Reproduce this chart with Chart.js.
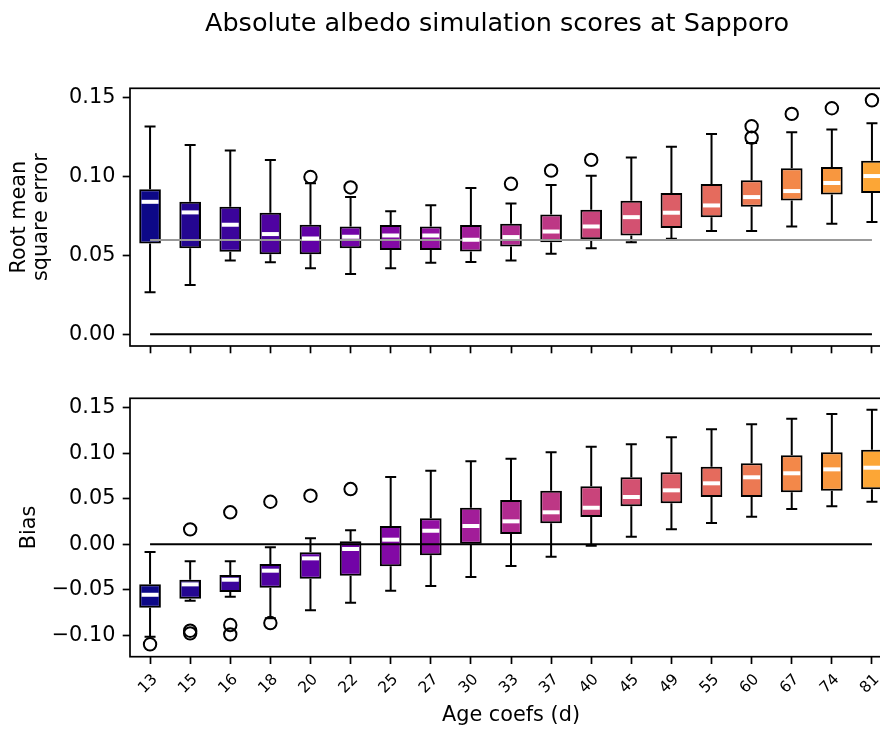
<!DOCTYPE html>
<html lang="en">
<head>
    <meta charset="UTF-8">
    <title>Absolute albedo simulation scores at Sapporo</title>
    <script src="https://cdn.jsdelivr.net/npm/chart.js"></script>
    <style>
        html, body { margin: 0; padding: 0; background: #fff; overflow: hidden; width: 880px; height: 729px; }
        canvas { position: absolute; left: 0; }
    </style>
</head>
<body>
    <canvas id="rmseChart" width="994" height="370" style="top:0"></canvas>
    <canvas id="biasChart" width="994" height="359" style="top:370px"></canvas>

    <script>
        // categories (age coefficient, days)
        const ageCoefs = ['13', '15', '16', '18', '20', '22', '25', '27', '30', '33', '37', '40', '45', '49', '55', '60', '67', '74', '81'];

        // RMSE box stats
        const rmseLow  = [0.0266, 0.0312, 0.0467, 0.0456, 0.0418, 0.0382, 0.0418, 0.0452, 0.0458, 0.0467, 0.0509, 0.0545, 0.0583, 0.0604, 0.0653, 0.0653, 0.0682, 0.0699, 0.0710];
        const rmseQ1   = [0.0574, 0.0545, 0.0522, 0.0507, 0.0507, 0.0545, 0.0534, 0.0534, 0.0524, 0.0555, 0.0583, 0.0602, 0.0625, 0.0672, 0.0741, 0.0807, 0.0847, 0.0885, 0.0894];
        const rmseMed  = [0.0838, 0.0771, 0.0693, 0.0634, 0.0606, 0.0617, 0.0625, 0.0625, 0.0598, 0.0615, 0.0650, 0.0682, 0.0741, 0.0769, 0.0815, 0.0868, 0.0906, 0.0957, 0.1001];
        const rmseQ3   = [0.0917, 0.0838, 0.0807, 0.0769, 0.0693, 0.0682, 0.0691, 0.0682, 0.0691, 0.0699, 0.0758, 0.0788, 0.0845, 0.0894, 0.0951, 0.0974, 0.1050, 0.1058, 0.1098];
        const rmseHigh = [0.1314, 0.1198, 0.1162, 0.1103, 0.0955, 0.0868, 0.0779, 0.0817, 0.0925, 0.0828, 0.0944, 0.1003, 0.1119, 0.1187, 0.1267, 0.1210, 0.1278, 0.1295, 0.1335];
        const rmseOutliers = [[], [], [], [], [0.0995], [0.0929], [], [], [], [0.0952], [0.1035], [0.1103], [], [], [], [0.1244, 0.1316], [0.1394], [0.1430], [0.1480]];
        const rmseBest = 0.0597;

        // Bias box stats
        const biasLow  = [-0.1013, -0.0618, -0.0574, -0.0810, -0.0724, -0.0640, -0.0508, -0.0457, -0.0359, -0.0238, -0.0136, -0.0015, 0.0083, 0.0164, 0.0234, 0.0303, 0.0387, 0.0417, 0.0467];
        const biasQ1   = [-0.0695, -0.0596, -0.0523, -0.0475, -0.0377, -0.0344, -0.0241, -0.0121, 0.0000, 0.0113, 0.0230, 0.0299, 0.0417, 0.0450, 0.0519, 0.0519, 0.0570, 0.0588, 0.0603];
        const biasMed  = [-0.0553, -0.0439, -0.0388, -0.0289, -0.0154, -0.0051, 0.0051, 0.0149, 0.0201, 0.0252, 0.0351, 0.0401, 0.0519, 0.0592, 0.0669, 0.0735, 0.0779, 0.0822, 0.0840];
        const biasQ3   = [-0.0439, -0.0388, -0.0337, -0.0216, -0.0088, 0.0033, 0.0201, 0.0285, 0.0401, 0.0486, 0.0588, 0.0636, 0.0735, 0.0789, 0.0851, 0.0888, 0.0976, 0.1009, 0.1037];
        const biasHigh = [-0.0084, -0.0186, -0.0186, -0.0033, 0.0066, 0.0153, 0.0738, 0.0807, 0.0910, 0.0939, 0.1009, 0.1070, 0.1096, 0.1173, 0.1261, 0.1316, 0.1377, 0.1429, 0.1476];
        const biasOutliers = [[-0.1096], [0.0164, -0.0947, -0.0976], [0.0351, -0.0885, -0.0987], [0.0467, -0.0863], [0.0533], [0.0606], [], [], [], [], [], [], [], [], [], [], [], [], []];

        // tick labels
        const rmseTicks = [0.00, 0.05, 0.10, 0.15];
        const biasTicks = [-0.10, -0.05, 0.00, 0.05, 0.10, 0.15];

        // plasma colours, one per box
        const boxColors = ['#0d0887', '#240691', '#3b049b', '#4f03a1', '#6101a6', '#7203a7', '#8309a5', '#9310a2', '#a21d99', '#b12a90',
                           '#bd3785', '#c9447b', '#d35171', '#dc5e67', '#e56b5d', '#ec7953', '#f38849', '#f8973f', '#fca636'];

        const FONT = 'DejaVu Sans';
        const fmt = v => v.toFixed(2).replace('-', '\u2212');

        // whiskers, caps, medians, reference lines and frame
        const boxExtras = {
            id: 'boxExtras',
            afterDatasetsDraw(chart, args, opts) {
                const { ctx, chartArea, scales: { x, y } } = chart;
                ctx.save();
                ctx.lineCap = 'butt';
                ctx.strokeStyle = '#000';
                ctx.lineWidth = 2;
                opts.low.forEach((lo, i) => {
                    const px = x.getPixelForValue(i);
                    [[lo, opts.q1[i]], [opts.high[i], opts.q3[i]]].forEach(([end, edge]) => {
                        const ye = y.getPixelForValue(end);
                        const yb = y.getPixelForValue(edge);
                        ctx.beginPath();
                        ctx.moveTo(px, yb);
                        ctx.lineTo(px, ye);
                        ctx.moveTo(px - 5.5, ye);
                        ctx.lineTo(px + 5.5, ye);
                        ctx.stroke();
                    });
                });

                const x0 = x.getPixelForValue(0);
                const x1 = x.getPixelForValue(ageCoefs.length - 1);
                opts.refs.forEach(r => {
                    const yy = y.getPixelForValue(r.value);
                    ctx.strokeStyle = r.color;
                    ctx.lineWidth = 2;
                    ctx.beginPath();
                    ctx.moveTo(x0, yy);
                    ctx.lineTo(x1, yy);
                    ctx.stroke();
                });

                ctx.strokeStyle = '#fff';
                ctx.lineWidth = 4;
                opts.med.forEach((m, i) => {
                    const px = x.getPixelForValue(i);
                    const py = y.getPixelForValue(m);
                    ctx.beginPath();
                    ctx.moveTo(px - 8.5, py);
                    ctx.lineTo(px + 8.5, py);
                    ctx.stroke();
                });

                ctx.strokeStyle = '#000';
                ctx.lineWidth = 1.7;
                ctx.strokeRect(chartArea.left, chartArea.top, chartArea.width, chartArea.height);
                ctx.restore();
            }
        };

        function makeChart(id, q1, med, q3, low, high, outliers, ticks, yMin, yMax, yTitle, yTitlePad, refs, isBottom) {
            const outlierPoints = [];
            outliers.forEach((vals, i) => vals.forEach(v => outlierPoints.push({ x: ageCoefs[i], y: v })));

            return new Chart(document.getElementById(id), {
                type: 'bar',
                data: {
                    labels: ageCoefs,
                    datasets: [{
                        data: ageCoefs.map((_, i) => [q1[i], q3[i]]),
                        backgroundColor: boxColors,
                        borderColor: '#000',
                        borderWidth: 2,
                        borderSkipped: false,
                        barPercentage: 0.54,
                        categoryPercentage: 1.0
                    }, {
                        type: 'scatter',
                        data: outlierPoints,
                        pointStyle: 'circle',
                        pointRadius: 6.2,
                        pointBorderWidth: 2,
                        pointBorderColor: '#000',
                        pointBackgroundColor: 'rgba(0,0,0,0)'
                    }]
                },
                options: {
                    responsive: false,
                    animation: false,
                    layout: { padding: { top: isBottom ? 28.3 : 0, right: 0, bottom: 0, left: 0 } },
                    plugins: {
                        legend: { display: false },
                        tooltip: { enabled: false },
                        title: {
                            display: !isBottom,
                            text: 'Absolute albedo simulation scores at Sapporo',
                            color: '#000',
                            font: { family: FONT, size: 25.5, weight: 'normal', lineHeight: 1.2 },
                            padding: { top: 9, bottom: 48.7 }
                        },
                        boxExtras: { low, q1, med, q3, high, refs }
                    },
                    scales: {
                        x: {
                            type: 'category',
                            offset: true,
                            afterFit: s => { s.height = isBottom ? 72.3 : 24; },
                            grid: { offset: false, drawOnChartArea: false, drawTicks: true, tickLength: 7.3, tickWidth: 1.7, tickColor: '#000' },
                            border: { display: false },
                            ticks: {
                                display: isBottom,
                                autoSkip: false,
                                minRotation: 45,
                                maxRotation: 45,
                                padding: 6.5,
                                labelOffset: 5,
                                color: '#000',
                                font: { family: FONT, size: 15.5 }
                            },
                            title: {
                                display: isBottom,
                                text: 'Age coefs (d)',
                                color: '#000',
                                font: { family: FONT, size: 20.8, lineHeight: 1.2 },
                                padding: { top: 0, bottom: 1 }
                            }
                        },
                        y: {
                            type: 'linear',
                            min: yMin,
                            max: yMax,
                            afterFit: s => { s.width = 130; },
                            afterBuildTicks: s => { s.ticks = ticks.map(v => ({ value: v })); },
                            grid: { drawOnChartArea: false, drawTicks: true, tickLength: 7.3, tickWidth: 1.7, tickColor: '#000' },
                            border: { display: false },
                            ticks: {
                                callback: v => fmt(v),
                                padding: 7.3,
                                color: '#000',
                                font: { family: FONT, size: 20.8 }
                            },
                            title: {
                                display: true,
                                text: yTitle,
                                color: '#000',
                                font: { family: FONT, size: 20.8, lineHeight: Array.isArray(yTitle) ? 1.07 : 1.2 },
                                padding: { top: yTitlePad, bottom: 0 }
                            }
                        },
                        // empty right-hand margin so the figure title centres on the whole figure
                        margin: {
                            type: 'linear',
                            position: 'right',
                            afterFit: s => { s.width = 102; },
                            grid: { display: false },
                            ticks: { display: false },
                            border: { display: false }
                        }
                    }
                },
                plugins: [boxExtras]
            });
        }

        makeChart('rmseChart', rmseQ1, rmseMed, rmseQ3, rmseLow, rmseHigh, rmseOutliers, rmseTicks,
            -0.0074, 0.1556, ['Root mean', 'square error'], 8.5,
            [{ value: 0, color: '#000' }, { value: rmseBest, color: '#999' }], false);

        makeChart('biasChart', biasQ1, biasMed, biasQ3, biasLow, biasHigh, biasOutliers, biasTicks,
            -0.1232, 0.1601, 'Bias', 17,
            [{ value: 0, color: '#000' }], true);
    </script>
</body>
</html>
